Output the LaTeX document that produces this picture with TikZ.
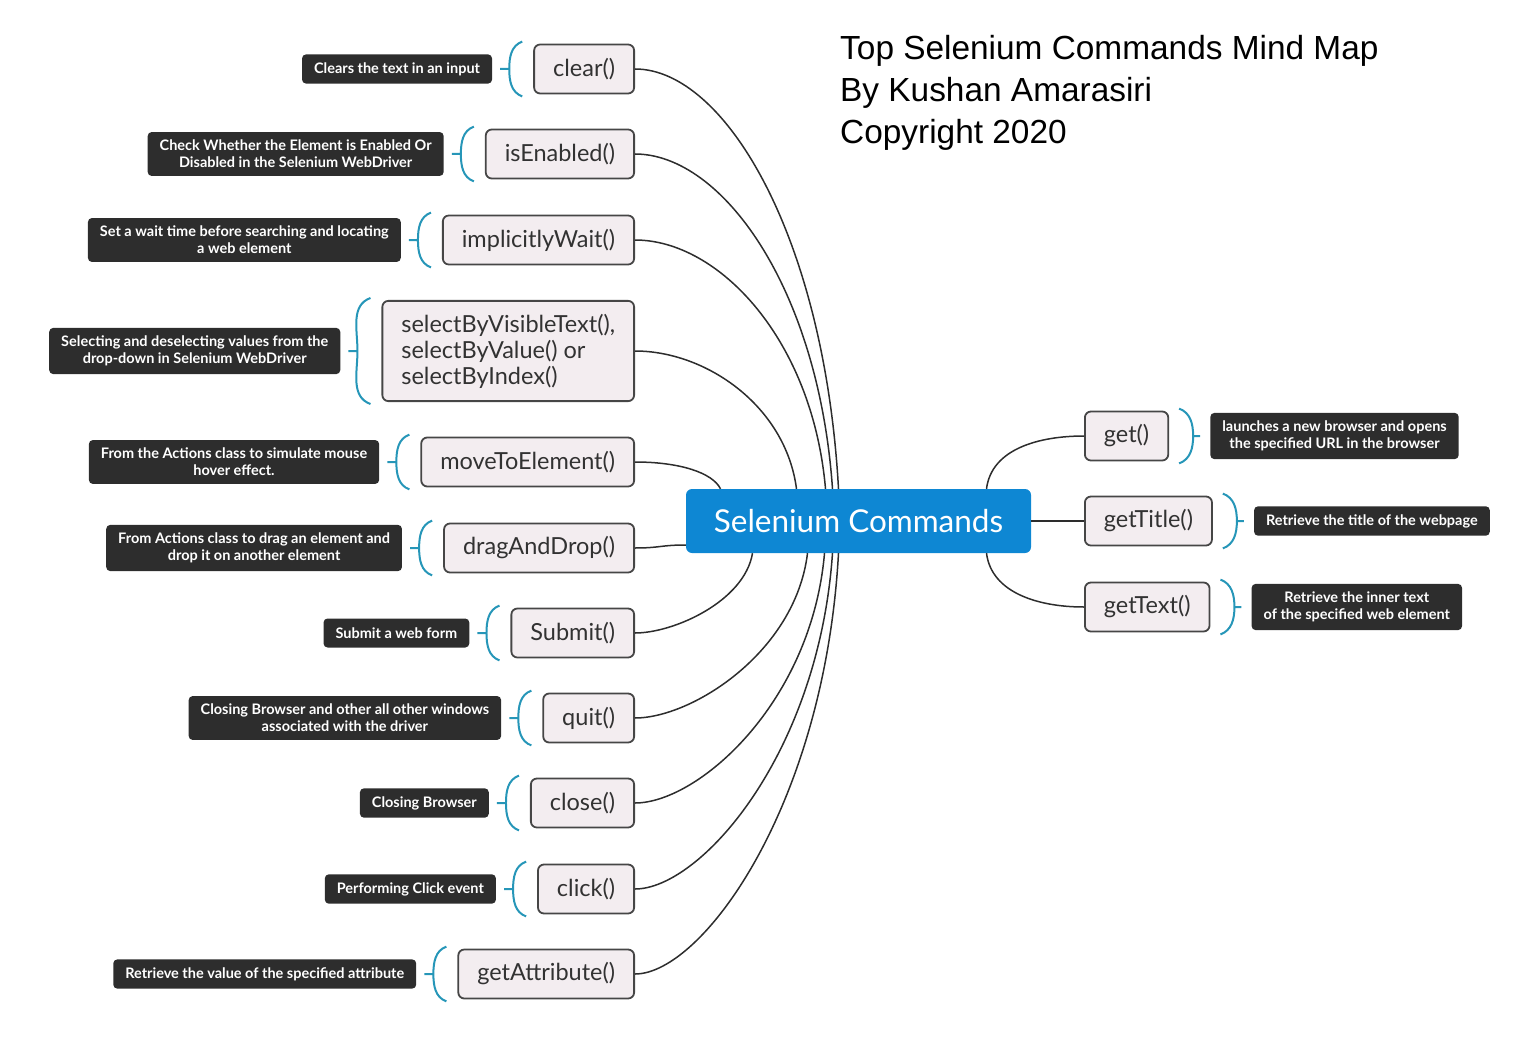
\documentclass[tikz,border=0pt]{standalone}
\usepackage{fontspec}
\setmainfont{Lato}
\newfontfamily\titlefont{Liberation Sans}
\usetikzlibrary{calc}
\usetikzlibrary{positioning}

\definecolor{rootblue}{RGB}{14,135,211}
\definecolor{cmdfill}{RGB}{243,237,240}
\definecolor{cmdline}{RGB}{70,70,70}
\definecolor{cmdtext}{RGB}{50,50,50}
\definecolor{descfill}{RGB}{45,45,45}
\definecolor{bracecol}{RGB}{38,150,184}
\definecolor{linkcol}{RGB}{45,45,45}

\begin{document}
\begin{tikzpicture}[x=1pt, y=-1pt,
  root/.style={fill=rootblue, rounded corners=6pt, text=white, minimum width=345pt, minimum height=64pt, font=\fontsize{31.5}{36}\selectfont},
  cmd/.style={draw=cmdline, fill=cmdfill, rounded corners=6pt, line width=1.8pt, minimum height=49pt, inner xsep=19pt, inner ysep=13pt, text=cmdtext, align=left, font=\fontsize{23.5}{26}\selectfont},
  desc/.style={fill=descfill, rounded corners=4pt, text=white, inner xsep=12pt, inner ysep=8pt, minimum height=29pt, align=center, font=\bfseries\fontsize{14.5}{17}\selectfont},
  title/.style={anchor=base west, inner sep=0pt, font=\titlefont\fontsize{33.4}{42}\selectfont},
  link/.style={draw=linkcol, line width=1.5pt},
  brace/.style={draw=bracecol, line width=2pt}]
\useasboundingbox (0,0) rectangle (1536,1043);

% title
\node[title] (title1) at (840,60) {Top Selenium Commands Mind Map};
\node[title] (title2) at (840,102) {By Kushan Amarasiri};
\node[title] (title3) at (840,144) {Copyright 2020};

% central topic
\node[root] (root) at (858.5,521) {Selenium Commands};

% left branch
\node[cmd, anchor=east] (clear) at (635,69) {clear()};
\node[cmd, anchor=east] (isEnabled) at (635,154) {isEnabled()};
\node[cmd, anchor=east] (implicitlyWait) at (635,240) {implicitlyWait()};
\node[cmd, anchor=east] (select) at (635,351) {selectByVisibleText(),\\selectByValue() or\\selectByIndex()};
\node[cmd, anchor=east] (moveTo) at (635,462) {moveToElement()};
\node[cmd, anchor=east] (drag) at (635,548) {dragAndDrop()};
\node[cmd, anchor=east] (submit) at (635,633) {Submit()};
\node[cmd, anchor=east] (quit) at (635,718) {quit()};
\node[cmd, anchor=east] (close) at (635,803) {close()};
\node[cmd, anchor=east] (click) at (635,889) {click()};
\node[cmd, anchor=east] (getAttr) at (635,974) {getAttribute()};

\node[desc, left=41pt of clear] (clearTxt) {Clears the text in an input};
\node[desc, left=41pt of isEnabled] (isEnabledTxt) {Check Whether the Element is Enabled Or\\Disabled in the Selenium WebDriver};
\node[desc, left=41pt of implicitlyWait] (implicitlyWaitTxt) {Set a wait time before searching and locating\\a web element};
\node[desc, left=41pt of select] (selectTxt) {Selecting and deselecting values from the\\drop-down in Selenium WebDriver};
\node[desc, left=41pt of moveTo] (moveToTxt) {From the Actions class to simulate mouse\\hover effect.};
\node[desc, left=41pt of drag] (dragTxt) {From Actions class to drag an element and\\drop it on another element};
\node[desc, left=41pt of submit] (submitTxt) {Submit a web form};
\node[desc, left=41pt of quit] (quitTxt) {Closing Browser and other all other windows\\associated with the driver};
\node[desc, left=41pt of close] (closeTxt) {Closing Browser};
\node[desc, left=41pt of click] (clickTxt) {Performing Click event};
\node[desc, left=41pt of getAttr] (getAttrTxt) {Retrieve the value of the specified attribute};

% right branch
\node[cmd, anchor=west] (get) at (1084,436) {get()};
\node[cmd, anchor=west] (getTitle) at (1084,521) {getTitle()};
\node[cmd, anchor=west] (getText) at (1084,607) {getText()};

\node[desc, right=41pt of get] (getTxt) {launches a new browser and opens\\the specified URL in the browser};
\node[desc, right=41pt of getTitle] (getTitleTxt) {Retrieve the title of the webpage};
\node[desc, right=41pt of getText] (getTextTxt) {Retrieve the inner text\\of the specified web element};

% brackets
\foreach \n in {clear,isEnabled,implicitlyWait,select,moveTo,drag,submit,quit,close,click,getAttr}
  \draw[brace] ($(\n.north west)+(-11,-2)$) to[out=200,in=90] ($(\n.west)+(-24,0)$) to[out=-90,in=160] ($(\n.south west)+(-11,2)$)
    ($(\n.west)+(-24,0)$) -- ($(\n.west)+(-33,0)$);
\foreach \n in {get,getTitle,getText}
  \draw[brace] ($(\n.north east)+(10,-2)$) to[out=-20,in=90] ($(\n.east)+(24,0)$) to[out=-90,in=20] ($(\n.south east)+(10,2)$)
    ($(\n.east)+(24,0)$) -- ($(\n.east)+(31,0)$);

% connectors
\draw[link] (clear.east) .. controls +(90,0) and +(-14,-252) .. ([xshift=-20pt]root.north);
\draw[link] (isEnabled.east) .. controls +(87,0) and +(-14,-201) .. ([xshift=-26pt]root.north);
\draw[link] (implicitlyWait.east) .. controls +(84,0) and +(-13,-149) .. ([xshift=-33pt]root.north);
\draw[link] (select.east) .. controls +(71,0) and +(-11,-83) .. ([xshift=-62pt]root.north);
\draw[link] (moveTo.east) .. controls +(45,0) and +(-8,-16) .. ([xshift=-138pt]root.north);
\draw[link] (drag.east) .. controls +(25,0) and +(-25,0) .. ([yshift=-24pt]root.west);
\draw[link] (submit.east) .. controls +(39,0) and +(-8,48) .. ([xshift=-106pt]root.south);
\draw[link] (quit.east) .. controls +(57,0) and +(-12,99) .. ([xshift=-51pt]root.south);
\draw[link] (close.east) .. controls +(63,0) and +(-13,150) .. ([xshift=-34pt]root.south);
\draw[link] (click.east) .. controls +(65,0) and +(-14,202) .. ([xshift=-26pt]root.south);
\draw[link] (getAttr.east) .. controls +(67,0) and +(-14,253) .. ([xshift=-20pt]root.south);
\draw[link] ([xshift=128pt]root.north) .. controls +(5,-40) and +(-45,0) .. (get.west);
\draw[link] (root.east) -- (getTitle.west);
\draw[link] ([xshift=128pt]root.south) .. controls +(5,40) and +(-45,0) .. (getText.west);
\end{tikzpicture}
\end{document}
